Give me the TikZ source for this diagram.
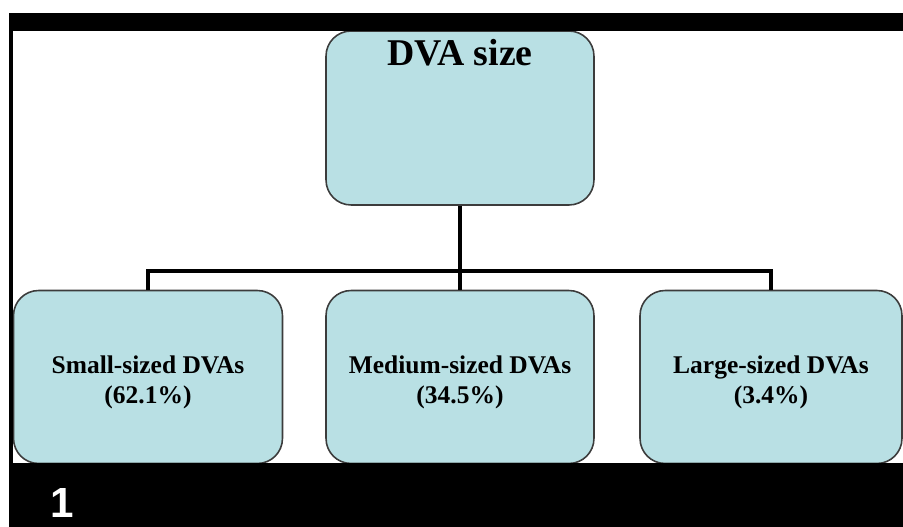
\documentclass[tikz,border=0pt]{standalone}
\usepackage{fontspec}
\setmainfont{Liberation Serif}
\newfontfamily\numfont{Liberation Sans}
\usepackage{tikz}

\definecolor{boxfill}{RGB}{185,224,228}
\definecolor{boxline}{RGB}{60,60,60}

\begin{document}
\begin{tikzpicture}[x=0.02cm,y=-0.02cm,
    sizebox/.style={draw=boxline, fill=boxfill, line width=0.9pt, rounded corners=0.5cm,
        minimum width=5.36cm, minimum height=3.46cm, align=center, text height=1.16cm,
        font=\fontsize{14.5}{17}\selectfont\bfseries},
    link/.style={line width=1.9pt}]
    \useasboundingbox (0,0) rectangle (903,527);
    % boxes
    \node [sizebox, minimum height=3.48cm] (top) at (460,118) {};
    \node [anchor=north, font=\fontsize{21.5}{24}\selectfont\bfseries] (title) at ([yshift=-0.06cm]top.north) {DVA size};
    \node [sizebox, minimum width=5.38cm] (small) at (148,377) {Small-sized DVAs\\(62.1\%)};
    \node [sizebox] (medium) at (460,377) {Medium-sized DVAs\\(34.5\%)};
    \node [sizebox, minimum width=5.24cm] (large) at (771,377) {Large-sized DVAs\\(3.4\%)};
    % connectors
    \coordinate (hub) at (460,271);
    \draw [link] (top.south) -- (medium.north);
    \draw [link] (small.north) |- (hub) -| (large.north);
    % frame
    \fill (9,13) rectangle (903,31);
    \fill (9,13) rectangle (13,527);
    \fill (9,463) rectangle (903,527);
    \node [text=white, font=\fontsize{24}{26}\selectfont\numfont\bfseries] (num) at (62,503) {1};
\end{tikzpicture}
\end{document}
